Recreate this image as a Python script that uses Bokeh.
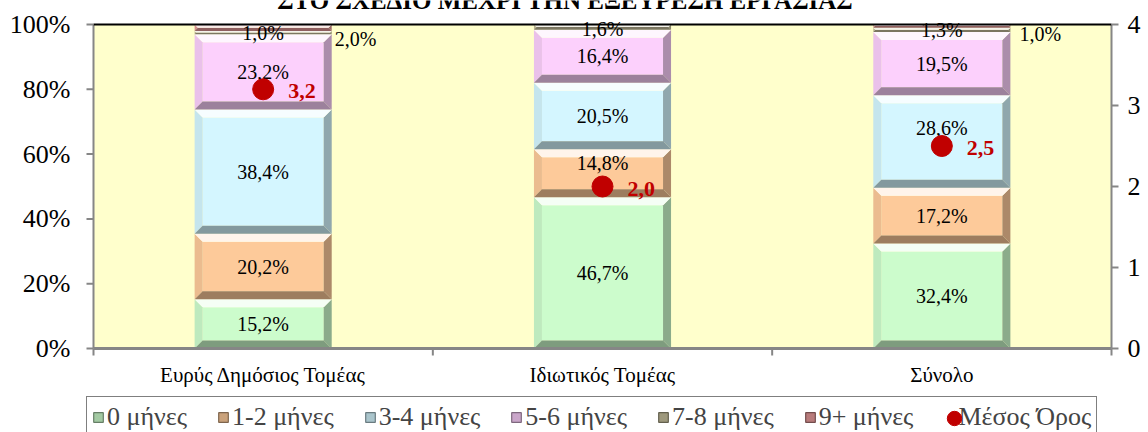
import numpy as np
from bokeh.plotting import figure
from bokeh.models import Range1d, Legend, LegendItem, ColumnDataSource
from bokeh.core.properties import value
from bokeh.embed import file_html
from bokeh.resources import INLINE

# ---------------- data ----------------
categories = ["Ευρύς Δημόσιος Τομέας", "Ιδιωτικός Τομέας", "Σύνολο"]
series_names = ["0 μήνες", "1-2 μήνες", "3-4 μήνες", "5-6 μήνες", "7-8 μήνες", "9+ μήνες"]
s_0 = [15.2, 46.7, 32.4]
s_1_2 = [20.2, 14.8, 17.2]
s_3_4 = [38.4, 20.5, 28.6]
s_5_6 = [23.2, 16.4, 19.5]
s_7_8 = [1.0, 1.6, 1.3]
s_9p = [2.0, 0.0, 1.0]
mean_name = "Μέσος Όρος"
mean_months = [3.2, 2.0, 2.5]
y_ticks = [0, 20, 40, 60, 80, 100]
y_tick_labels = ["0%", "20%", "40%", "60%", "80%", "100%"]
y2_ticks = [0, 1, 2, 3, 4]
y2_tick_labels = ["0", "1", "2", "3", "4"]
title_text = "ΣΤΟ ΣΧΕΔΙΟ ΜΕΧΡΙ ΤΗΝ ΕΞΕΥΡΕΣΗ ΕΡΓΑΣΙΑΣ"

# ---------------- style / layout ----------------
main_colors = ["#ccfccc", "#fdca9a", "#d4f6ff", "#fcd0fc", "#c6bf9c", "#e69a9a"]
mean_color = "#c00000"
GRAY = "#868686"
FONT = "Liberation Serif"
W, H = 1148, 432
ML, MR, MT, MB = 93, 37, 24, 84          # plot area margins (px)
FW, FH = W - ML - MR, H - MT - MB
N = len(categories)
Y2MAX = 4.0
PXX = FW / N
PXY = FH / 100.0
BAR_W = 0.404
BEV = 8
# label nudges (px): (series, category) -> (dx, dy, side)  dy>0 = down
nudges = {(5, 0): (3, 11, "right"), (1, 1): (0, -10, "c"), (4, 1): (0, 2, "c"),
          (2, 2): (0, -13, "c"), (5, 2): (9, 8, "right")}


def mix(c, o, t):
    a = [int(c[i:i + 2], 16) for i in (1, 3, 5)]
    b = [int(o[i:i + 2], 16) for i in (1, 3, 5)]
    return "#" + "".join(f"{round(a[k] + (b[k] - a[k]) * t):02x}" for k in range(3))


def fmt(v):
    return f"{v:.1f}".replace(".", ",")


def px_x(px):
    return px / PXX


def px_y(px):
    return px / PXY


p = figure(width=W, height=H, x_axis_type=None, y_axis_type=None,
           x_range=Range1d(-px_x(ML), N + px_x(MR)), y_range=Range1d(-px_y(MB), 100 + px_y(MT)),
           output_backend="svg", toolbar_location=None,
           min_border=0, background_fill_color="white", border_fill_color="white",
           outline_line_color=None)
p.grid.visible = False
y2scale = 100.0 / Y2MAX

# plot area background
p.quad(left=[0], right=[N], bottom=[y_ticks[0]], top=[y_ticks[-1]], fill_color="#ffffcc", line_color=None)

stack = np.array([s_0, s_1_2, s_3_4, s_5_6, s_7_8, s_9p])
tops = np.cumsum(stack, axis=0)
bottoms = tops - stack
xc = np.arange(N) + 0.5

lab_c = dict(x=[], y=[], text=[])
lab_r = dict(x=[], y=[], text=[], xo=[])
legend_proxies = []
for si in range(len(series_names)):
    main = main_colors[si]
    cols = {"top": mix(main, "#ffffff", 0.8), "left": mix(main, "#000000", 0.07),
            "right": mix(main, "#000000", 0.32), "bottom": mix(main, "#000000", 0.38)}
    sides = {k: ([], []) for k in cols}
    quad = dict(left=[], right=[], bottom=[], top=[])
    for ci in range(N):
        v = stack[si, ci]
        if v <= 0:
            continue
        x0, x1 = xc[ci] - BAR_W / 2, xc[ci] + BAR_W / 2
        y0, y1 = bottoms[si, ci], tops[si, ci]
        b = min(BEV, v * PXY / 2.0)
        bx, by = px_x(b), px_y(b)
        sides["top"][0].append([x0, x1, x1 - bx, x0 + bx]); sides["top"][1].append([y1, y1, y1 - by, y1 - by])
        sides["bottom"][0].append([x0, x1, x1 - bx, x0 + bx]); sides["bottom"][1].append([y0, y0, y0 + by, y0 + by])
        sides["left"][0].append([x0, x0, x0 + bx, x0 + bx]); sides["left"][1].append([y0, y1, y1 - by, y0 + by])
        sides["right"][0].append([x1, x1, x1 - bx, x1 - bx]); sides["right"][1].append([y0, y1, y1 - by, y0 + by])
        quad["left"].append(x0 + bx); quad["right"].append(x1 - bx)
        quad["bottom"].append(y0 + by); quad["top"].append(y1 - by)
        dx, dy, side = nudges.get((si, ci), (0, 0, "c"))
        ym = (y0 + y1) / 2 - px_y(dy)
        if side == "right":
            lab_r["x"].append(x1); lab_r["y"].append(ym); lab_r["text"].append(fmt(v) + "%"); lab_r["xo"].append(dx)
        else:
            lab_c["x"].append(xc[ci]); lab_c["y"].append(ym); lab_c["text"].append(fmt(v) + "%")
    p.quad(source=ColumnDataSource(quad), left="left", right="right", bottom="bottom", top="top",
           fill_color=main, line_color=None)
    for k in ("left", "right", "bottom", "top"):
        p.patches(xs=sides[k][0], ys=sides[k][1], fill_color=cols[k], line_color=None)
    # zero-size proxy (sits on the x axis line) used only for the legend swatch
    legend_proxies.append(p.quad(left=list(xc), right=list(xc), bottom=[0] * N, top=[0] * N,
                                 fill_color=mix(main, "#000000", 0.2),
                                 line_color=mix(main, "#000000", 0.5), line_width=1.2))

p.text(source=ColumnDataSource(lab_c), x="x", y="y", text="text", text_align="center",
       text_baseline="middle", text_font=value(FONT), text_font_size="20px", text_color="black")
p.text(source=ColumnDataSource(lab_r), x="x", y="y", text="text", x_offset="xo", text_align="left",
       text_baseline="middle", text_font=value(FONT), text_font_size="20px", text_color="black")

# mean markers (right scale 0-4)
my = [m * y2scale for m in mean_months]
msrc = ColumnDataSource(dict(x=xc, y=my, ly=[v - px_y(2) for v in my], t=[fmt(v) for v in mean_months]))
mr = p.scatter(x="x", y="y", source=msrc, size=21, fill_color=mean_color, line_color=mean_color)
p.text(x="x", y="ly", text="t", source=msrc, x_offset=25,
       text_align="left", text_baseline="middle", text_font=value(FONT), text_font_size="22px",
       text_font_style="bold", text_color=mean_color)

# ---------------- axes ----------------
p.segment(x0=[0, N], y0=[0, 0], x1=[0, N], y1=[100, 100], line_color=GRAY, line_width=2)
p.segment(x0=[0], y0=[0], x1=[N], y1=[0], line_color=GRAY, line_width=3)
p.segment(x0=[0], y0=[100], x1=[N], y1=[100], line_color="black", line_width=2)
# left ticks & labels
p.segment(x0=[0] * len(y_ticks), y0=y_ticks, x1=[-px_x(7)] * len(y_ticks), y1=y_ticks,
          line_color=GRAY, line_width=2)
p.text(x=[0] * len(y_ticks), y=y_ticks, text=y_tick_labels, x_offset=-23, text_align="right",
       text_baseline="middle", text_font=value(FONT), text_font_size="26px", text_color="black")
# right ticks & labels
y2_pos = [t * y2scale for t in y2_ticks]
p.segment(x0=[N] * len(y2_ticks), y0=y2_pos, x1=[N + px_x(7)] * len(y2_ticks), y1=y2_pos,
          line_color=GRAY, line_width=2)
p.text(x=[N] * len(y2_ticks), y=y2_pos, text=y2_tick_labels, x_offset=16, text_align="left",
       text_baseline="middle", text_font=value(FONT), text_font_size="26px", text_color="black")
# category axis: ticks between categories, labels centred
bounds = list(range(N + 1))
p.segment(x0=bounds, y0=[0] * (N + 1), x1=bounds, y1=[-px_y(7)] * (N + 1), line_color=GRAY, line_width=2)
p.text(x=xc, y=[-px_y(26)] * N, text=categories, text_align="center", text_baseline="middle",
       text_font=value(FONT), text_font_size="21px", text_color="black")

# title (cut at the top, as in the reference)
p.text(x=[1.39], y=[100 + px_y(24.5)], text=[title_text], text_align="center",
       text_baseline="alphabetic", text_font=value(FONT), text_font_size="25px",
       text_font_style="bold", text_color="black")

# ---------------- legend ----------------
mean_blank = p.scatter(x=xc, y=my, size=0, fill_alpha=0, line_alpha=0)
items = [LegendItem(label=n, renderers=[r]) for n, r in zip(series_names, legend_proxies)]
items.append(LegendItem(label=mean_name, renderers=[mean_blank]))
leg = Legend(items=items, orientation="horizontal", location=(86, -6),
             label_text_font=FONT, label_text_font_size="26px", glyph_width=12, glyph_height=12,
             label_standoff=3, spacing=30, padding=5, margin=0,
             border_line_color="black", border_line_width=1,
             background_fill_color="white", background_fill_alpha=1.0)
p.add_layout(leg)
leg_dot = Legend(items=[LegendItem(label=" ", renderers=[mr])], location=(936, -4),
                 glyph_width=36, glyph_height=36, padding=0, margin=0, label_standoff=0,
                 border_line_color=None, background_fill_alpha=0.0)
p.add_layout(leg_dot)

open("out.html", "w").write(file_html(p, INLINE))
